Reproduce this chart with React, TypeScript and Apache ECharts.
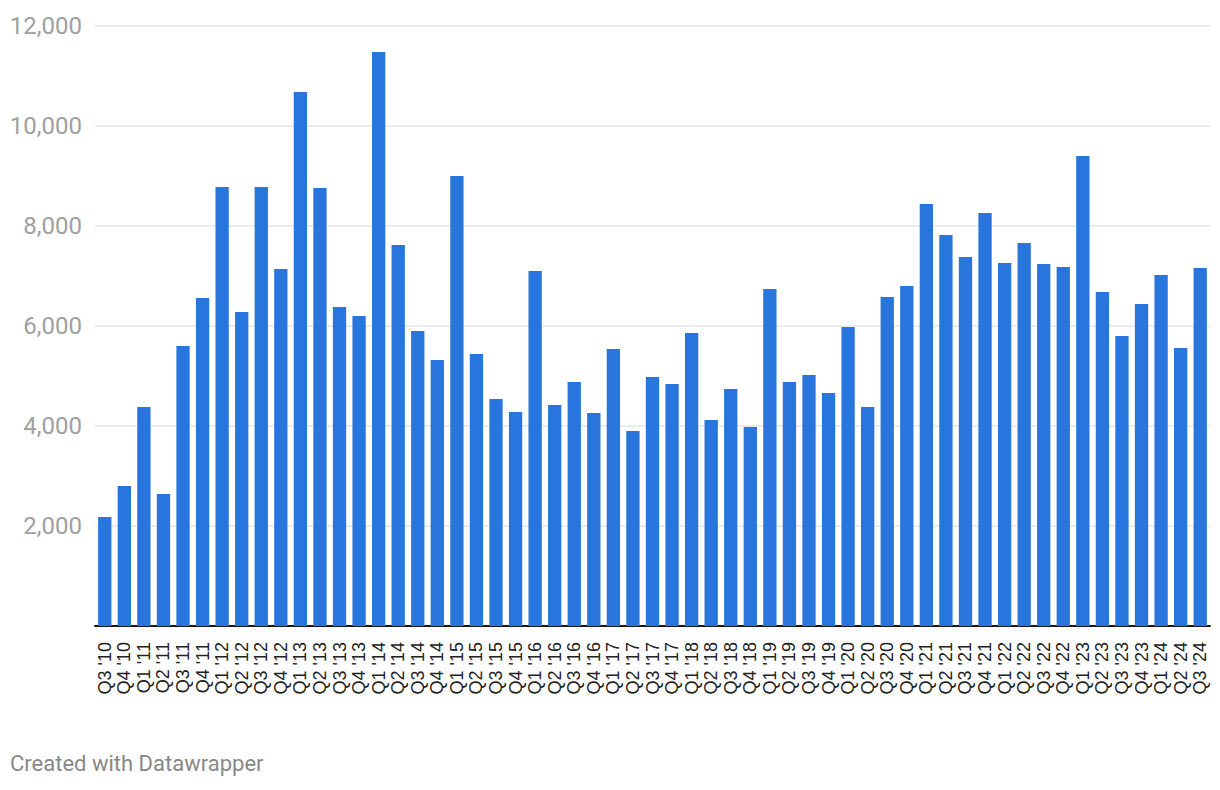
import React, { useEffect, useRef } from "react";
import * as echarts from "echarts";

const categories = [
  "Q3 '10", "Q4 '10",
  "Q1 '11", "Q2 '11", "Q3 '11", "Q4 '11",
  "Q1 '12", "Q2 '12", "Q3 '12", "Q4 '12",
  "Q1 '13", "Q2 '13", "Q3 '13", "Q4 '13",
  "Q1 '14", "Q2 '14", "Q3 '14", "Q4 '14",
  "Q1 '15", "Q2 '15", "Q3 '15", "Q4 '15",
  "Q1 '16", "Q2 '16", "Q3 '16", "Q4 '16",
  "Q1 '17", "Q2 '17", "Q3 '17", "Q4 '17",
  "Q1 '18", "Q2 '18", "Q3 '18", "Q4 '18",
  "Q1 '19", "Q2 '19", "Q3 '19", "Q4 '19",
  "Q1 '20", "Q2 '20", "Q3 '20", "Q4 '20",
  "Q1 '21", "Q2 '21", "Q3 '21", "Q4 '21",
  "Q1 '22", "Q2 '22", "Q3 '22", "Q4 '22",
  "Q1 '23", "Q2 '23", "Q3 '23", "Q4 '23",
  "Q1 '24", "Q2 '24", "Q3 '24",
];

const values = [
  2180, 2800,
  4380, 2640, 5600, 6560,
  8780, 6280, 8780, 7140,
  10680, 8760, 6380, 6200,
  11480, 7620, 5900, 5320,
  9000, 5440, 4540, 4280,
  7100, 4420, 4880, 4260,
  5540, 3900, 4980, 4840,
  5860, 4120, 4740, 3980,
  6740, 4880, 5020, 4660,
  5980, 4380, 6580, 6800,
  8440, 7820, 7380, 8260,
  7260, 7660, 7240, 7180,
  9400, 6680, 5800, 6440,
  7020, 5560, 7160,
];

const yMin = 0;
const yMax = 12000;
const yInterval = 2000;
const footerText = "Created with Datawrapper";

export default function App() {
  const ref = useRef<HTMLDivElement>(null);

  useEffect(() => {
    if (!ref.current) return;
    const chart = echarts.init(ref.current, undefined, { renderer: "svg" });
    chart.setOption({
      animation: false,
      backgroundColor: "#ffffff",
      textStyle: { fontFamily: "Roboto" },
      grid: { left: 95, right: 10, top: 26, bottom: 164, containLabel: false },
      xAxis: {
        type: "category",
        data: categories,
        axisLine: { show: true, lineStyle: { color: "#1a1a1a", width: 2 } },
        axisTick: { show: false },
        axisLabel: {
          interval: 0,
          rotate: 90,
          margin: 16,
          fontSize: 18,
          color: "#222222",
          fontFamily: "Liberation Sans",
        },
      },
      yAxis: {
        type: "value",
        min: yMin,
        max: yMax,
        interval: yInterval,
        axisLine: { show: false },
        axisTick: { show: false },
        splitLine: { show: true, lineStyle: { color: "#e6e6e6", width: 1.5 } },
        axisLabel: {
          margin: 13,
          fontSize: 24,
          color: "#a0a0a0",
          fontFamily: "Roboto",
          formatter: (v: number) => (v === 0 ? "" : v.toLocaleString("en-US")),
        },
      },
      series: [
        {
          type: "bar",
          data: values,
          barCategoryGap: "32%",
          itemStyle: { color: "#2876dd" },
        },
      ],
      graphic: [
        {
          type: "text",
          left: 10,
          top: 752,
          style: {
            text: footerText,
            fontSize: 22,
            fill: "#888888",
            fontFamily: "Roboto",
          },
        },
      ],
    });
    return () => chart.dispose();
  }, []);

  return (
    <div
      ref={ref}
      style={{ position: "fixed", left: 0, top: 0, width: 1220, height: 790 }}
    />
  );
}
